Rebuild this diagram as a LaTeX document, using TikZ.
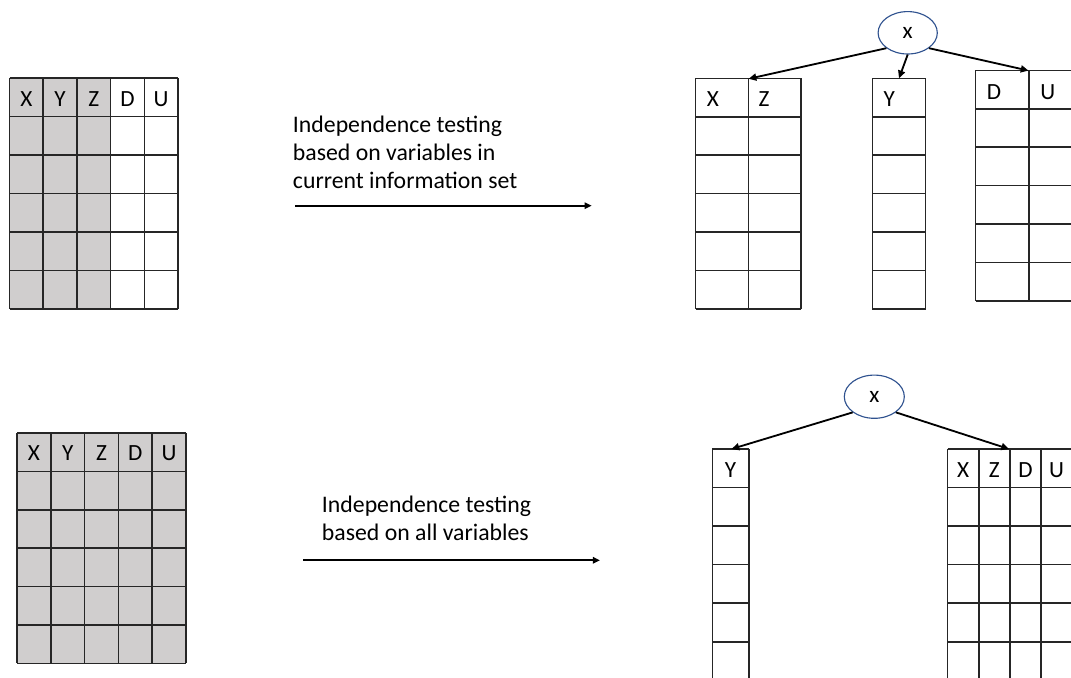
\documentclass[tikz,border=0pt]{standalone}
\usepackage{fontspec}
\setmainfont{Carlito}
\usepackage{xcolor}
\usetikzlibrary{arrows.meta, shapes.geometric, positioning}
\definecolor{cellgray}{RGB}{208,206,206}
\definecolor{ovalblue}{RGB}{47,82,143}
\tikzset{
  split/.style={draw=ovalblue, line width=0.8pt, ellipse, inner sep=0pt,
    minimum width=1.48cm, minimum height=1.06cm, font=\fontsize{16.5}{20}\selectfont},
  branch/.style={-{Triangle[length=5.5pt,width=5pt]}, line width=1.3pt},
  flow/.style={-{Triangle[length=5pt,width=4.5pt]}, line width=1.4pt},
  rule/.style={line width=1.1pt, black!85},
  head/.style={inner sep=0pt, font=\fontsize{16.5}{20}\selectfont},
  note/.style={inner sep=0pt, align=left, anchor=base west,
    font=\fontsize{16.9}{19.9}\selectfont}
}

\begin{document}
\begin{tikzpicture}[x=0.025cm, y=-0.025cm]
\clip (0,0) rectangle (1071,677);
% current information set: X, Y, Z shaded
\fill[cellgray] (9.5,78) rectangle (110.6,309);
\foreach \i in {0,...,5} \draw[rule] (9.5+33.7*\i,78) -- ++(0,231);
\foreach \j in {0,...,6} \draw[rule] (9.5,78+38.5*\j) -- ++(168.5,0);
\foreach \v [count=\i from 0] in {X,Y,Z,D,U}
  \node[head, anchor=base] (top\v) at (26.35+33.7*\i,106) {\v};

% text and arrow (base = last line)
\node[note] (topnote) at (292.7,188) {Independence testing\\based on variables in\\current information set};
\coordinate (topfrom) at (295,205.7);
\coordinate (topto) at (591.7,205.7);
\draw[flow] (topfrom) -- (topto);

% split on x
\node[split] (rootA) at (907.7,32.8) {x};
% X Z block
\foreach \i in {0,1,2} \draw[rule] (695.7+52.6*\i,78.3) -- ++(0,230.7);
\foreach \j in {0,...,6} \draw[rule] (695.7,78.3+38.45*\j) -- ++(105.2,0);
\node[head, anchor=base west] (xzX) at (706.7,106.7) {X};
\node[head, anchor=base west] (xzZ) at (758.3,106.7) {Z};
% Y block
\foreach \i in {0,1} \draw[rule] (872.3+53.4*\i,78.3) -- ++(0,230.7);
\foreach \j in {0,...,6} \draw[rule] (872.3,78.3+38.45*\j) -- ++(53.4,0);
\node[head, anchor=base west] (yY) at (883.3,106.7) {Y};
% D U block
\foreach \i in {0,1,2} \draw[rule] (975.7+53.3*\i,70.3) -- ++(0,230.7);
\foreach \j in {0,...,6} \draw[rule] (975.7,70.3+38.45*\j) -- ++(106.6,0);
\node[head, anchor=base west] (duD) at (986.7,99) {D};
\node[head, anchor=base west] (duU) at (1040,99) {U};

\coordinate (xztop) at (748.6,78.8);
\coordinate (ytop) at (899,78.3);
\coordinate (dutop) at (1028.5,70.6);
\draw[branch] (rootA.south west) -- (xztop);
\draw[branch] (rootA.south) -- (ytop);
\draw[branch] (rootA.south east) -- (dutop);

% all variables shaded
\fill[cellgray] (17,433) rectangle (186,663.4);
\foreach \i in {0,...,5} \draw[rule] (17+33.8*\i,433) -- ++(0,230.4);
\foreach \j in {0,...,6} \draw[rule] (17,433+38.4*\j) -- ++(169,0);
\foreach \v [count=\i from 0] in {X,Y,Z,D,U}
  \node[head, anchor=base] (all\v) at (33.9+33.8*\i,460) {\v};

% text and arrow (base = last line)
\node[note] (allnote) at (321.7,540) {Independence testing\\based on all variables};
\coordinate (allfrom) at (303.3,560.3);
\coordinate (allto) at (600,560.3);
\draw[flow] (allfrom) -- (allto);

% split on x
\node[split, minimum width=1.5cm, minimum height=1.08cm] (rootB) at (874.3,396.7) {x};
% Y block
\foreach \i in {0,1} \draw[rule] (712.3+36.7*\i,449) -- ++(0,240);
\foreach \j in {0,...,6} \draw[rule] (712.3,449+38.55*\j) -- ++(36.7,0);
\node[head, anchor=base] (leftY) at (730.6,477.3) {Y};
% X Z D U block
\foreach \i in {0,...,4} \draw[rule] (947.7+31.1*\i,449) -- ++(0,240);
\foreach \j in {0,...,6} \draw[rule] (947.7,449+38.55*\j) -- ++(124.4,0);
\foreach \v [count=\i from 0] in {X,Z,D,U}
  \node[head, anchor=base] (right\v) at (963.25+31.1*\i,477.3) {\v};

\coordinate (ltop) at (731.5,449);
\coordinate (rtop) at (1009,449);
\draw[branch] (rootB.south west) -- (ltop);
\draw[branch] (rootB.south east) -- (rtop);
\end{tikzpicture}
\end{document}
